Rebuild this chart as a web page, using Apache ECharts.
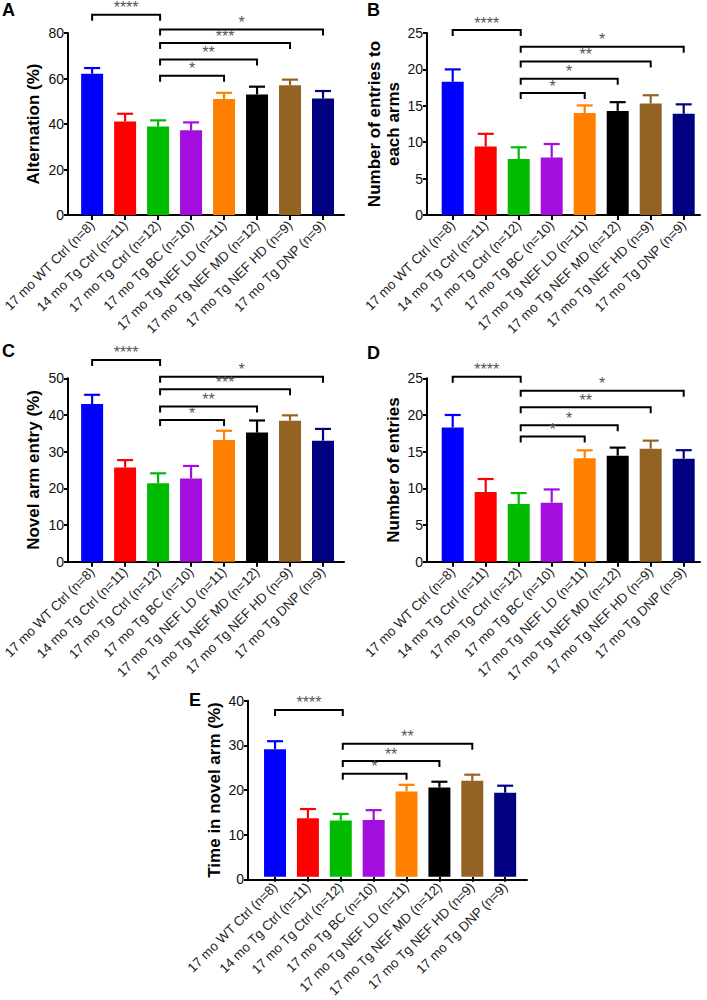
<!DOCTYPE html>
<html>
<head>
<meta charset="utf-8">
<script src="https://cdn.jsdelivr.net/npm/echarts@6/dist/echarts.min.js"></script>
<style>html,body{margin:0;padding:0;background:#fff}#main{width:707px;height:1000px}</style>
</head>
<body>
<div id="main"></div>
<script>
const categories = ['17 mo WT Ctrl (n=8)', '14 mo Tg Ctrl (n=11)', '17 mo Tg Ctrl (n=12)', '17 mo Tg BC (n=10)', '17 mo Tg NEF LD (n=11)', '17 mo Tg NEF MD (n=12)', '17 mo Tg NEF HD (n=9)', '17 mo Tg DNP (n=9)'];
const barColors = ['#0000ff', '#ff0000', '#00bb00', '#a30ddd', '#ff8000', '#000000', '#936323', '#000080'];

// A: Alternation (%)
const altMean = [62.1, 41.1, 38.9, 37.2, 51.0, 53.0, 57.0, 51.2];
const altSem  = [2.5, 3.4, 2.7, 3.5, 2.7, 3.4, 2.5, 3.3];
const altSig  = [[0, 2, 88, '****'], [2, 7, 81.5, '*'], [2, 6, 75.6, '***'], [2, 5, 68.3, '**'], [2, 4, 61.2, '*']];
const altTicks = [0, 20, 40, 60, 80];

// B: Number of entries to each arms
const armMean = [18.3, 9.4, 7.7, 7.9, 14.0, 14.3, 15.3, 13.9];
const armSem  = [1.7, 1.75, 1.6, 1.85, 1.05, 1.2, 1.15, 1.3];
const armSig  = [[0, 2, 25.4, '****'], [2, 7, 23.1, '*'], [2, 6, 21.1, '**'], [2, 5, 18.7, '*'], [2, 4, 16.75, '*']];
const armTicks = [0, 5, 10, 15, 20, 25];

// C: Novel arm entry (%)
const novMean = [43.0, 25.7, 21.4, 22.7, 33.2, 35.2, 38.45, 33.0];
const novSem  = [2.5, 2.0, 2.7, 3.4, 2.5, 3.3, 1.45, 3.2];
const novSig  = [[0, 2, 55, '****'], [2, 7, 50.45, '*'], [2, 6, 47, '***'], [2, 5, 42.3, '**'], [2, 4, 38.6, '*']];
const novTicks = [0, 10, 20, 30, 40, 50];

// D: Number of entries
const entMean = [18.3, 9.5, 7.85, 8.05, 14.1, 14.45, 15.4, 14.05];
const entSem  = [1.7, 1.77, 1.5, 1.8, 1.08, 1.1, 1.1, 1.15];
const entSig  = [[0, 2, 25.2, '****'], [2, 7, 23.3, '*'], [2, 6, 21.05, '**'], [2, 5, 18.6, '*'], [2, 4, 17.05, '*']];
const entTicks = [0, 5, 10, 15, 20, 25];

// E: Time in novel arm (%)
const timMean = [29.0, 13.3, 12.8, 12.9, 19.4, 20.3, 21.8, 19.1];
const timSem  = [1.8, 2.1, 1.5, 2.25, 1.5, 1.3, 1.4, 1.6];
const timSig  = [[0, 2, 37.9, '****'], [2, 6, 30.2, '**'], [2, 5, 26.3, '**'], [2, 4, 23.4, '*']];
const timTicks = [0, 10, 20, 30, 40];

const FONT = '"Liberation Sans", Arial, Helvetica, sans-serif';

const panels = [
  {letter: 'A', lx: 2, ly: 1, axisLeft: 68, axisWidth: 276, bandLeft: 75.5, bandWidth: 264, top: 33, height: 182,
   ticks: altTicks, name: 'Alternation (%)', nameGap: 25, mean: altMean, sem: altSem, sig: altSig},
  {letter: 'B', lx: 367, ly: 1, axisLeft: 427, axisWidth: 273, bandLeft: 436.2, bandWidth: 264, top: 33, height: 182,
   ticks: armTicks, name: 'Number of entries to\neach arms', nameGap: 24, mean: armMean, sem: armSem, sig: armSig},
  {letter: 'C', lx: 2, ly: 342, axisLeft: 68, axisWidth: 276, bandLeft: 75.5, bandWidth: 264, top: 378.3, height: 183.4,
   ticks: novTicks, name: 'Novel arm entry (%)', nameGap: 25, mean: novMean, sem: novSem, sig: novSig},
  {letter: 'D', lx: 367, ly: 344, axisLeft: 427, axisWidth: 273, bandLeft: 436.2, bandWidth: 264, top: 378.3, height: 183.4,
   ticks: entTicks, name: 'Number of entries', nameGap: 24, mean: entMean, sem: entSem, sig: entSig},
  {letter: 'E', lx: 189, ly: 691, axisLeft: 248, axisWidth: 279, bandLeft: 258.6, bandWidth: 263, top: 700.7, height: 178.6,
   ticks: timTicks, name: 'Time in novel arm (%)', nameGap: 24, mean: timMean, sem: timSem, sig: timSig}
];

const option = {
  animation: false,
  backgroundColor: '#fff',
  textStyle: {fontFamily: FONT},
  title: [], grid: [], xAxis: [], yAxis: [], series: []
};

panels.forEach((p, k) => {
  const g0 = k * 2, g1 = k * 2 + 1;
  const ymax = p.ticks[p.ticks.length - 1];
  const interval = p.ticks[1] - p.ticks[0];
  option.title.push({text: p.letter, left: p.lx, top: p.ly, padding: 0,
    textStyle: {fontSize: 18, fontWeight: 'bold', color: '#000', fontFamily: FONT}});
  option.grid.push({left: p.axisLeft, top: p.top, width: p.axisWidth, height: p.height});
  option.grid.push({left: p.bandLeft, top: p.top, width: p.bandWidth, height: p.height});
  option.xAxis.push({gridIndex: g0, type: 'value', min: 0, max: 1,
    axisLine: {show: true, onZero: false, lineStyle: {color: '#000', width: 2}},
    axisTick: {show: false}, axisLabel: {show: false}, splitLine: {show: false}});
  option.xAxis.push({gridIndex: g1, type: 'category', data: categories,
    axisLine: {show: false},
    axisTick: {show: true, alignWithLabel: true, length: 5, lineStyle: {color: '#000', width: 2}},
    axisLabel: {interval: 0, rotate: 45, fontSize: 13.3, color: '#222', margin: 8, fontFamily: FONT},
    splitLine: {show: false}});
  option.yAxis.push({gridIndex: g0, type: 'value', min: 0, max: ymax, interval: interval,
    name: p.name, nameLocation: 'middle', nameRotate: 90, nameGap: p.nameGap,
    nameTextStyle: {fontSize: 17, fontWeight: 'bold', color: '#000', fontFamily: FONT, lineHeight: 19},
    axisLine: {show: true, lineStyle: {color: '#000', width: 2}},
    axisTick: {show: true, length: 4, lineStyle: {color: '#000', width: 2}},
    axisLabel: {fontSize: 14, color: '#111', margin: 4, fontFamily: FONT},
    splitLine: {show: false}});
  option.yAxis.push({gridIndex: g1, type: 'value', min: 0, max: ymax, interval: interval, show: false, splitLine: {show: false}});

  option.series.push({
    type: 'bar', xAxisIndex: g1, yAxisIndex: g1, barWidth: 22,
    data: p.mean.map((v, i) => ({value: v, itemStyle: {color: barColors[i]}}))
  });
  const sem = p.sem;
  option.series.push({
    type: 'custom', xAxisIndex: g1, yAxisIndex: g1, clip: false, z: 3,
    data: p.mean.map((v, i) => [i, v, v + sem[i]]),
    encode: {x: 0, y: [1, 2]},
    renderItem: function (params, api) {
      const i = api.value(0);
      const a = api.coord([i, api.value(1)]);
      const b = api.coord([i, api.value(2)]);
      const col = barColors[i];
      return {type: 'group', children: [
        {type: 'line', shape: {x1: a[0], y1: a[1], x2: b[0], y2: b[1]}, style: {stroke: col, lineWidth: 2.2}},
        {type: 'line', shape: {x1: b[0] - 8, y1: b[1], x2: b[0] + 8, y2: b[1]}, style: {stroke: col, lineWidth: 2.2}}
      ]};
    }
  });
  const sig = p.sig;
  option.series.push({
    type: 'custom', xAxisIndex: g1, yAxisIndex: g1, clip: false, z: 4,
    data: sig.map(s => [s[0], s[2]]),
    encode: {x: 0, y: 1},
    renderItem: function (params, api) {
      const s = sig[params.dataIndex];
      const p1 = api.coord([s[0], s[2]]);
      const p2 = api.coord([s[1], s[2]]);
      const x1 = p1[0] + (s[0] === 2 ? 2 : 0);
      const x2 = p2[0] + (s[1] === 2 ? 2 : 0);
      const y = p1[1];
      return {type: 'group', children: [
        {type: 'polyline', shape: {points: [[x1, y + 6], [x1, y], [x2, y], [x2, y + 6]]},
         style: {stroke: '#000', lineWidth: 2, fill: null}},
        {type: 'text', x: (x1 + x2) / 2, y: y + 1,
         style: {text: s[3], fill: '#555', fontSize: 16, fontFamily: FONT, align: 'center', verticalAlign: 'bottom'}}
      ]};
    }
  });
});

const chart = echarts.init(document.getElementById('main'), null, {renderer: 'svg'});
chart.setOption(option);
</script>
</body>
</html>
